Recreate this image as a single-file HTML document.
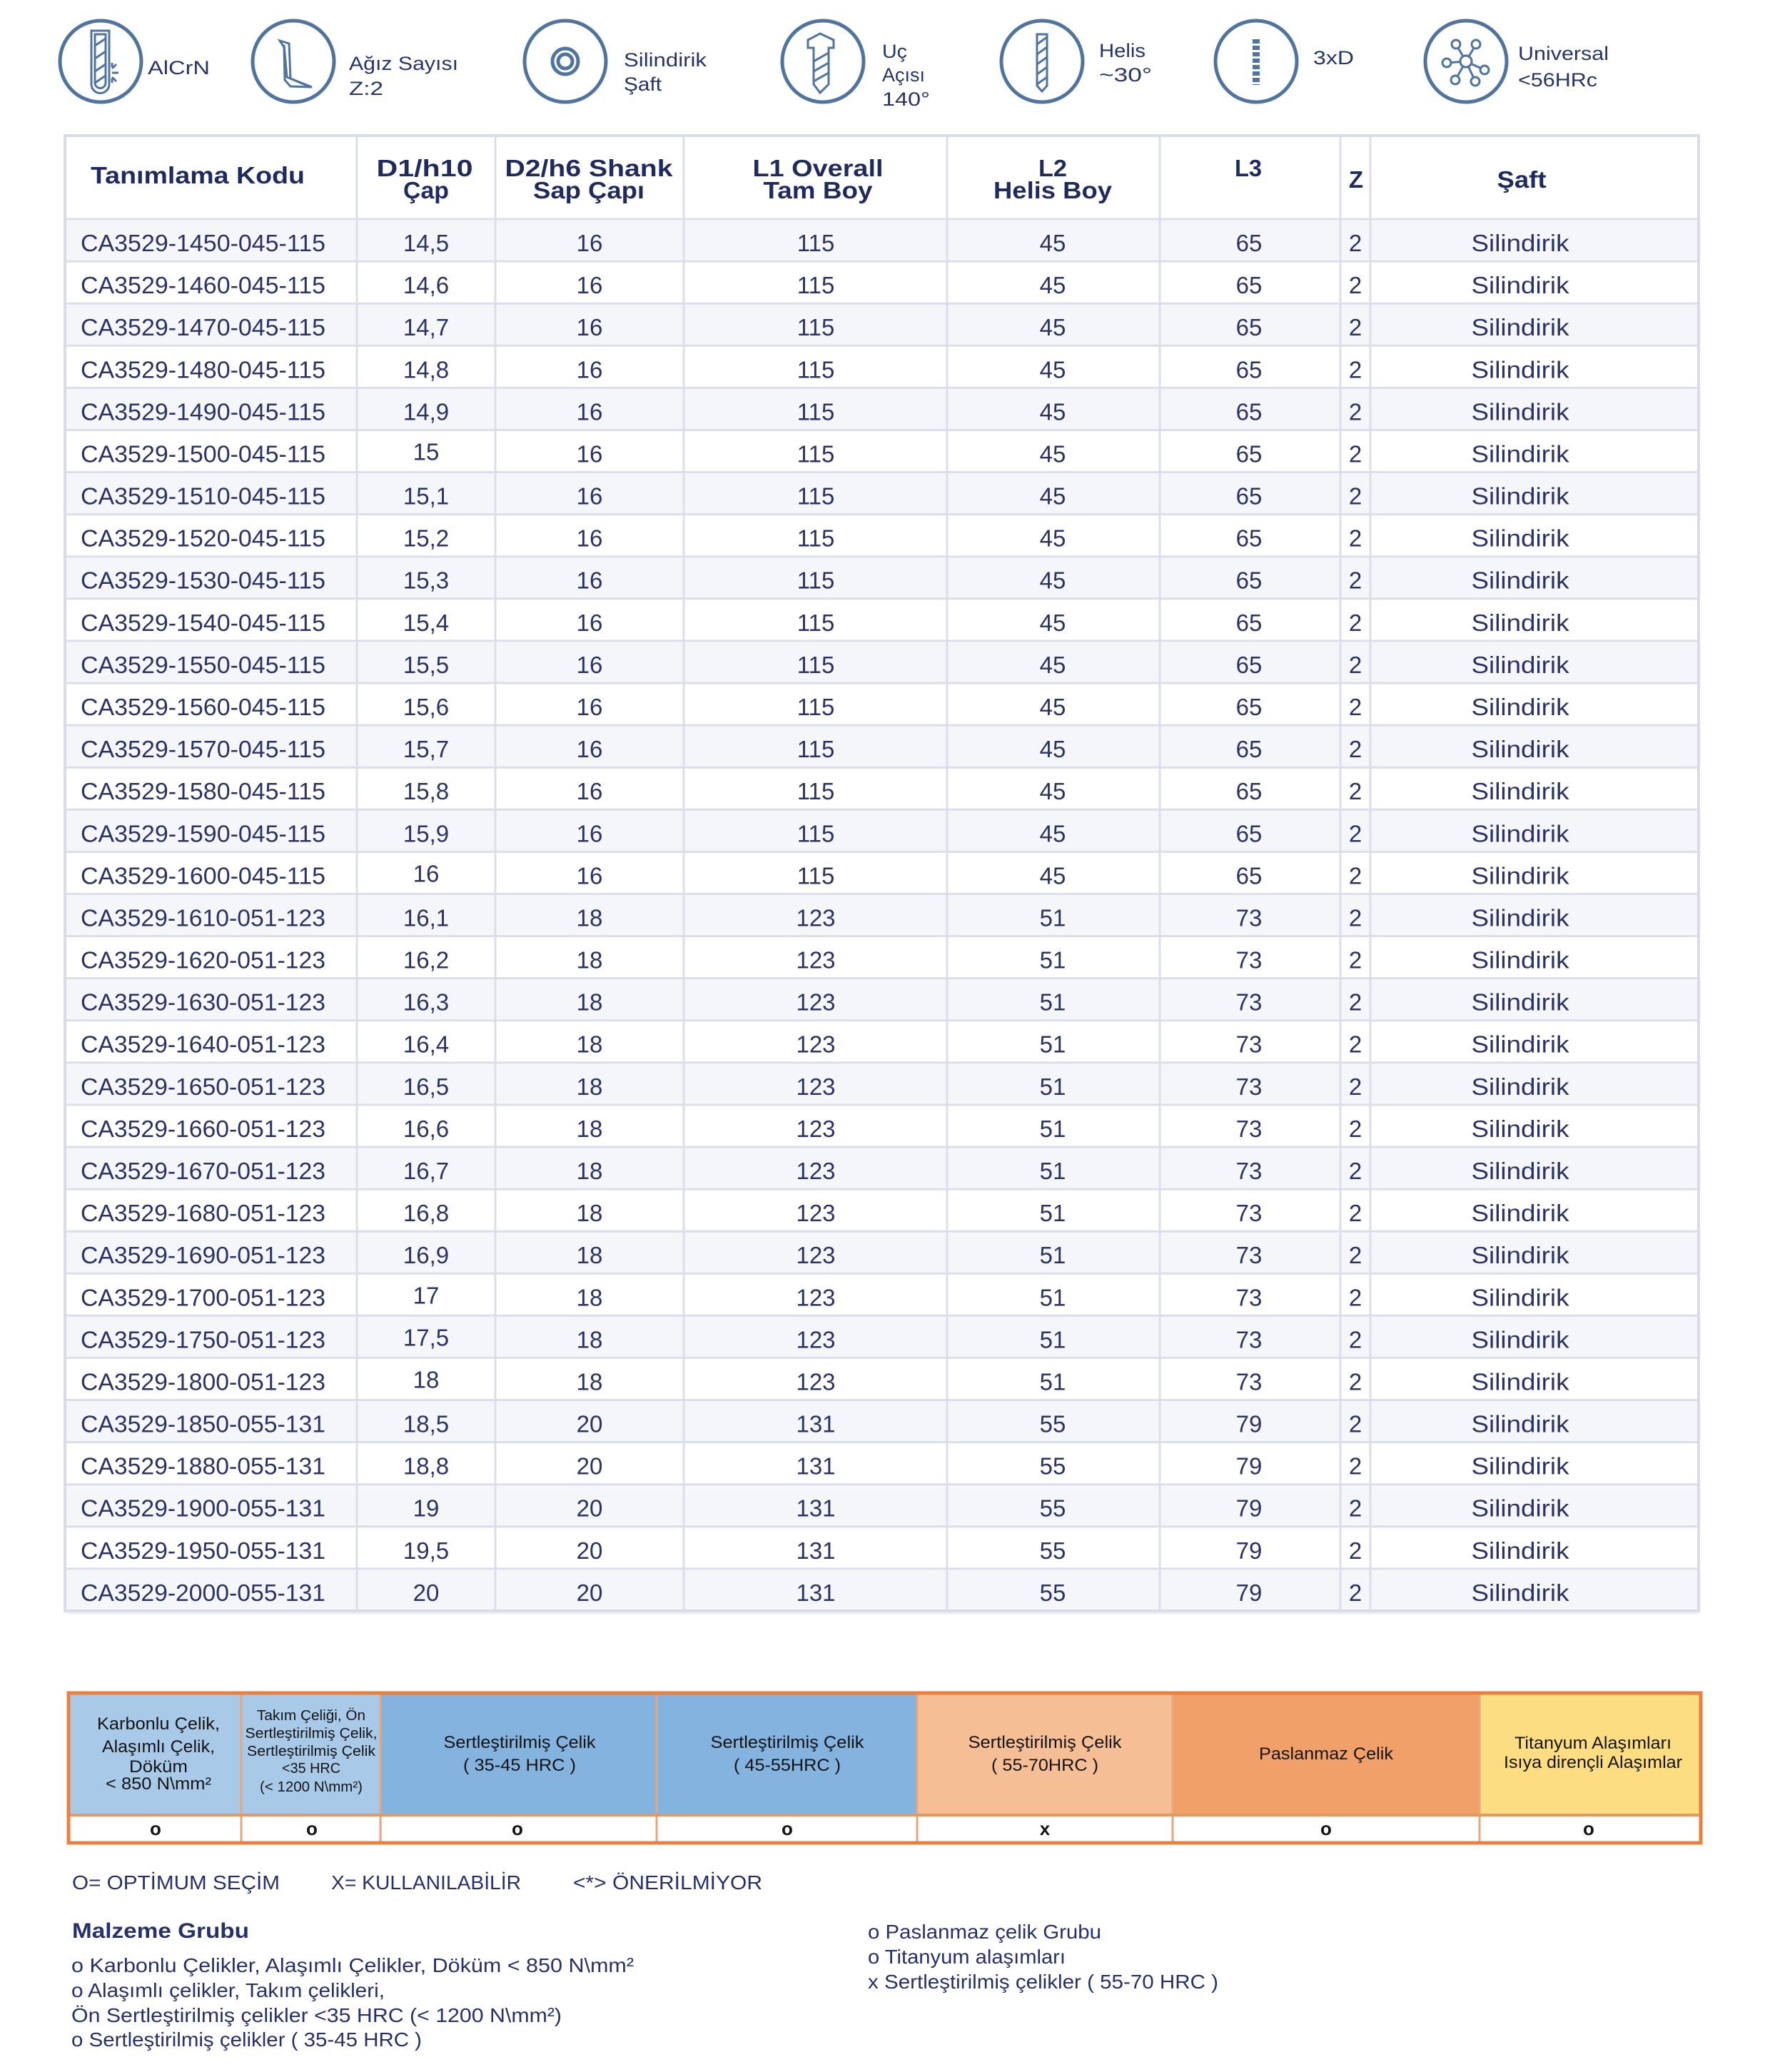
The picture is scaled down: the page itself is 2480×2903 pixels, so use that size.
<!DOCTYPE html>
<html>
<head>
<meta charset="utf-8">
<style>
  html,body{margin:0;padding:0;background:#fff;}
  svg{display:block;}
  text{font-family:"Liberation Sans",sans-serif;}
  .c{font-size:33px;fill:#2b3366;}
  .n{font-size:33px;fill:#2b3366;text-anchor:middle;}
  .h{font-size:33px;font-weight:bold;fill:#1f2a5e;text-anchor:middle;}
  .il{font-size:27px;fill:#27346a;}
  .lg{font-size:24px;fill:#141414;text-anchor:middle;}
  .lg2{font-size:20px;fill:#141414;text-anchor:middle;}
  .mk{font-size:26px;font-weight:bold;fill:#141414;text-anchor:middle;}
  .ft{font-size:28px;fill:#26306a;}
  .fb{font-size:30px;font-weight:bold;fill:#26306a;}
  .a{fill:#f5f6fa;}
  .b{fill:#ffffff;}
  .ic{fill:none;stroke:#4f74a0;stroke-width:5;}
  .ic3{fill:none;stroke:#4f74a0;stroke-width:3;}
</style>
</head>
<body>
<svg width="2480" height="2903" viewBox="0 0 2480 2903" xmlns="http://www.w3.org/2000/svg">
<rect x="0" y="0" width="2480" height="2903" fill="#fff"/>

<!-- ICONS -->
<circle class="ic" cx="141" cy="86" r="57"/>
<path class="ic3" d="M128,43 H153 V118 A12.5,12.5 0 0 1 128,118 Z"/>
<path class="ic3" stroke-width="2" d="M133,48 H148 V116 A7.5,7.5 0 0 1 133,116 Z"/>
<path class="ic3" d="M133,64 L148,54 M133,82 L148,72 M133,100 L148,90 M133,116 L148,106"/>
<path class="ic3" d="M157,102 H166 M157,96 L163,90 M157,108 L163,114 M157,94 V88 M157,110 V116"/>
<text class="il" x="207" y="104" textLength="87" lengthAdjust="spacingAndGlyphs">AlCrN</text>

<circle class="ic" cx="411" cy="86" r="57"/>
<path class="ic3" d="M392,57 L405,61 L407,110 L437,122 L407,121 L399,112 L398,66 Z"/>
<path class="ic3" stroke-width="2" d="M398,63 L402,108 L428,119"/>
<text class="il" x="489" y="98" textLength="153" lengthAdjust="spacingAndGlyphs">Ağız Sayısı</text>
<text class="il" x="489" y="133" textLength="48" lengthAdjust="spacingAndGlyphs">Z:2</text>

<circle class="ic" cx="792" cy="86" r="57"/>
<circle class="ic" cx="792" cy="86" r="18" stroke-width="4.5"/>
<circle class="ic" cx="792" cy="86" r="10" stroke-width="4"/>
<text class="il" x="874" y="93" textLength="116" lengthAdjust="spacingAndGlyphs">Silindirik</text>
<text class="il" x="874" y="127" textLength="53" lengthAdjust="spacingAndGlyphs">Şaft</text>

<circle class="ic" cx="1153" cy="86" r="57"/>
<path class="ic3" d="M1132,56 L1149,47 L1168,56 V67 H1161 V118 L1149,130 L1140,118 V67 H1132 Z"/>
<path class="ic3" d="M1140,86 L1161,74 M1140,100 L1161,88 M1140,114 L1161,102"/>
<text class="il" x="1236" y="81" textLength="35" lengthAdjust="spacingAndGlyphs">Uç</text>
<text class="il" x="1236" y="114" textLength="60" lengthAdjust="spacingAndGlyphs">Açısı</text>
<text class="il" x="1236" y="148" textLength="67" lengthAdjust="spacingAndGlyphs">140°</text>

<circle class="ic" cx="1460" cy="86" r="57"/>
<path class="ic3" d="M1453,48 H1467 V120 L1460,128 L1453,120 Z"/>
<path class="ic3" stroke-width="2" d="M1453,62 L1467,52 M1453,76 L1467,66 M1453,90 L1467,80 M1453,104 L1467,94 M1453,118 L1467,108"/>
<text class="il" x="1540" y="80" textLength="65" lengthAdjust="spacingAndGlyphs">Helis</text>
<text class="il" x="1540" y="114" textLength="74" lengthAdjust="spacingAndGlyphs">~30°</text>

<circle class="ic" cx="1760" cy="86" r="57"/>
<line x1="1760" y1="55" x2="1760" y2="119" stroke="#4f74a0" stroke-width="10" stroke-dasharray="6 3"/>
<text class="il" x="1840" y="90" textLength="57" lengthAdjust="spacingAndGlyphs">3xD</text>

<circle class="ic" cx="2054" cy="86" r="57"/>
<g stroke="#4f74a0" stroke-width="3" fill="none">
  <circle cx="2054" cy="86" r="8"/>
  <line x1="2054" y1="86" x2="2040" y2="62"/><circle cx="2040" cy="62" r="6" fill="#fff"/>
  <line x1="2054" y1="86" x2="2068" y2="62"/><circle cx="2068" cy="62" r="6" fill="#fff"/>
  <line x1="2054" y1="86" x2="2027" y2="88"/><circle cx="2027" cy="88" r="6" fill="#fff"/>
  <line x1="2054" y1="86" x2="2080" y2="98"/><circle cx="2080" cy="98" r="6" fill="#fff"/>
  <line x1="2054" y1="86" x2="2039" y2="112"/><circle cx="2039" cy="112" r="6" fill="#fff"/>
  <line x1="2054" y1="86" x2="2067" y2="114"/><circle cx="2067" cy="114" r="6" fill="#fff"/>
  <circle cx="2054" cy="86" r="8" fill="#fff"/>
</g>
<text class="il" x="2127" y="84" textLength="127" lengthAdjust="spacingAndGlyphs">Universal</text>
<text class="il" x="2127" y="121" textLength="111" lengthAdjust="spacingAndGlyphs">&lt;56HRc</text>

<!-- MAIN TABLE -->
<rect x="91" y="190" width="2289" height="117" fill="#fff"/>
<text class="h" x="277" y="257" textLength="300" lengthAdjust="spacingAndGlyphs">Tanımlama Kodu</text>
<text class="h" x="595" y="247" textLength="135" lengthAdjust="spacingAndGlyphs">D1/h10</text>
<text class="h" x="597" y="278" textLength="64" lengthAdjust="spacingAndGlyphs">Çap</text>
<text class="h" x="825" y="247" textLength="235" lengthAdjust="spacingAndGlyphs">D2/h6 Shank</text>
<text class="h" x="825" y="278" textLength="156" lengthAdjust="spacingAndGlyphs">Sap Çapı</text>
<text class="h" x="1146" y="247" textLength="183" lengthAdjust="spacingAndGlyphs">L1 Overall</text>
<text class="h" x="1146" y="278" textLength="153" lengthAdjust="spacingAndGlyphs">Tam Boy</text>
<text class="h" x="1475" y="247" textLength="40" lengthAdjust="spacingAndGlyphs">L2</text>
<text class="h" x="1475" y="278" textLength="166" lengthAdjust="spacingAndGlyphs">Helis Boy</text>
<text class="h" x="1749" y="247" textLength="38" lengthAdjust="spacingAndGlyphs">L3</text>
<text class="h" x="1900" y="263">Z</text>
<text class="h" x="2132" y="263" textLength="69" lengthAdjust="spacingAndGlyphs">Şaft</text>

<g transform="translate(0,307)"><rect class="a" x="91" y="0" width="2289" height="59.1"/><text class="c" x="113" y="45" textLength="343" lengthAdjust="spacingAndGlyphs">CA3529-1450-045-115</text><text class="n" x="597" y="45">14,5</text><text class="n" x="826" y="45">16</text><text class="n" x="1143" y="45">115</text><text class="n" x="1475" y="45">45</text><text class="n" x="1750" y="45">65</text><text class="n" x="1899" y="45">2</text><text class="n" x="2130" y="45" textLength="137" lengthAdjust="spacingAndGlyphs">Silindirik</text></g>
<g transform="translate(0,366.09)"><rect class="b" x="91" y="0" width="2289" height="59.1"/><text class="c" x="113" y="45" textLength="343" lengthAdjust="spacingAndGlyphs">CA3529-1460-045-115</text><text class="n" x="597" y="45">14,6</text><text class="n" x="826" y="45">16</text><text class="n" x="1143" y="45">115</text><text class="n" x="1475" y="45">45</text><text class="n" x="1750" y="45">65</text><text class="n" x="1899" y="45">2</text><text class="n" x="2130" y="45" textLength="137" lengthAdjust="spacingAndGlyphs">Silindirik</text></g>
<g transform="translate(0,425.18)"><rect class="a" x="91" y="0" width="2289" height="59.1"/><text class="c" x="113" y="45" textLength="343" lengthAdjust="spacingAndGlyphs">CA3529-1470-045-115</text><text class="n" x="597" y="45">14,7</text><text class="n" x="826" y="45">16</text><text class="n" x="1143" y="45">115</text><text class="n" x="1475" y="45">45</text><text class="n" x="1750" y="45">65</text><text class="n" x="1899" y="45">2</text><text class="n" x="2130" y="45" textLength="137" lengthAdjust="spacingAndGlyphs">Silindirik</text></g>
<g transform="translate(0,484.27)"><rect class="b" x="91" y="0" width="2289" height="59.1"/><text class="c" x="113" y="45" textLength="343" lengthAdjust="spacingAndGlyphs">CA3529-1480-045-115</text><text class="n" x="597" y="45">14,8</text><text class="n" x="826" y="45">16</text><text class="n" x="1143" y="45">115</text><text class="n" x="1475" y="45">45</text><text class="n" x="1750" y="45">65</text><text class="n" x="1899" y="45">2</text><text class="n" x="2130" y="45" textLength="137" lengthAdjust="spacingAndGlyphs">Silindirik</text></g>
<g transform="translate(0,543.36)"><rect class="a" x="91" y="0" width="2289" height="59.1"/><text class="c" x="113" y="45" textLength="343" lengthAdjust="spacingAndGlyphs">CA3529-1490-045-115</text><text class="n" x="597" y="45">14,9</text><text class="n" x="826" y="45">16</text><text class="n" x="1143" y="45">115</text><text class="n" x="1475" y="45">45</text><text class="n" x="1750" y="45">65</text><text class="n" x="1899" y="45">2</text><text class="n" x="2130" y="45" textLength="137" lengthAdjust="spacingAndGlyphs">Silindirik</text></g>
<g transform="translate(0,602.45)"><rect class="b" x="91" y="0" width="2289" height="59.1"/><text class="c" x="113" y="45" textLength="343" lengthAdjust="spacingAndGlyphs">CA3529-1500-045-115</text><text class="n" x="597" y="42">15</text><text class="n" x="826" y="45">16</text><text class="n" x="1143" y="45">115</text><text class="n" x="1475" y="45">45</text><text class="n" x="1750" y="45">65</text><text class="n" x="1899" y="45">2</text><text class="n" x="2130" y="45" textLength="137" lengthAdjust="spacingAndGlyphs">Silindirik</text></g>
<g transform="translate(0,661.55)"><rect class="a" x="91" y="0" width="2289" height="59.1"/><text class="c" x="113" y="45" textLength="343" lengthAdjust="spacingAndGlyphs">CA3529-1510-045-115</text><text class="n" x="597" y="45">15,1</text><text class="n" x="826" y="45">16</text><text class="n" x="1143" y="45">115</text><text class="n" x="1475" y="45">45</text><text class="n" x="1750" y="45">65</text><text class="n" x="1899" y="45">2</text><text class="n" x="2130" y="45" textLength="137" lengthAdjust="spacingAndGlyphs">Silindirik</text></g>
<g transform="translate(0,720.64)"><rect class="b" x="91" y="0" width="2289" height="59.1"/><text class="c" x="113" y="45" textLength="343" lengthAdjust="spacingAndGlyphs">CA3529-1520-045-115</text><text class="n" x="597" y="45">15,2</text><text class="n" x="826" y="45">16</text><text class="n" x="1143" y="45">115</text><text class="n" x="1475" y="45">45</text><text class="n" x="1750" y="45">65</text><text class="n" x="1899" y="45">2</text><text class="n" x="2130" y="45" textLength="137" lengthAdjust="spacingAndGlyphs">Silindirik</text></g>
<g transform="translate(0,779.73)"><rect class="a" x="91" y="0" width="2289" height="59.1"/><text class="c" x="113" y="45" textLength="343" lengthAdjust="spacingAndGlyphs">CA3529-1530-045-115</text><text class="n" x="597" y="45">15,3</text><text class="n" x="826" y="45">16</text><text class="n" x="1143" y="45">115</text><text class="n" x="1475" y="45">45</text><text class="n" x="1750" y="45">65</text><text class="n" x="1899" y="45">2</text><text class="n" x="2130" y="45" textLength="137" lengthAdjust="spacingAndGlyphs">Silindirik</text></g>
<g transform="translate(0,838.82)"><rect class="b" x="91" y="0" width="2289" height="59.1"/><text class="c" x="113" y="45" textLength="343" lengthAdjust="spacingAndGlyphs">CA3529-1540-045-115</text><text class="n" x="597" y="45">15,4</text><text class="n" x="826" y="45">16</text><text class="n" x="1143" y="45">115</text><text class="n" x="1475" y="45">45</text><text class="n" x="1750" y="45">65</text><text class="n" x="1899" y="45">2</text><text class="n" x="2130" y="45" textLength="137" lengthAdjust="spacingAndGlyphs">Silindirik</text></g>
<g transform="translate(0,897.91)"><rect class="a" x="91" y="0" width="2289" height="59.1"/><text class="c" x="113" y="45" textLength="343" lengthAdjust="spacingAndGlyphs">CA3529-1550-045-115</text><text class="n" x="597" y="45">15,5</text><text class="n" x="826" y="45">16</text><text class="n" x="1143" y="45">115</text><text class="n" x="1475" y="45">45</text><text class="n" x="1750" y="45">65</text><text class="n" x="1899" y="45">2</text><text class="n" x="2130" y="45" textLength="137" lengthAdjust="spacingAndGlyphs">Silindirik</text></g>
<g transform="translate(0,957)"><rect class="b" x="91" y="0" width="2289" height="59.1"/><text class="c" x="113" y="45" textLength="343" lengthAdjust="spacingAndGlyphs">CA3529-1560-045-115</text><text class="n" x="597" y="45">15,6</text><text class="n" x="826" y="45">16</text><text class="n" x="1143" y="45">115</text><text class="n" x="1475" y="45">45</text><text class="n" x="1750" y="45">65</text><text class="n" x="1899" y="45">2</text><text class="n" x="2130" y="45" textLength="137" lengthAdjust="spacingAndGlyphs">Silindirik</text></g>
<g transform="translate(0,1016.09)"><rect class="a" x="91" y="0" width="2289" height="59.1"/><text class="c" x="113" y="45" textLength="343" lengthAdjust="spacingAndGlyphs">CA3529-1570-045-115</text><text class="n" x="597" y="45">15,7</text><text class="n" x="826" y="45">16</text><text class="n" x="1143" y="45">115</text><text class="n" x="1475" y="45">45</text><text class="n" x="1750" y="45">65</text><text class="n" x="1899" y="45">2</text><text class="n" x="2130" y="45" textLength="137" lengthAdjust="spacingAndGlyphs">Silindirik</text></g>
<g transform="translate(0,1075.18)"><rect class="b" x="91" y="0" width="2289" height="59.1"/><text class="c" x="113" y="45" textLength="343" lengthAdjust="spacingAndGlyphs">CA3529-1580-045-115</text><text class="n" x="597" y="45">15,8</text><text class="n" x="826" y="45">16</text><text class="n" x="1143" y="45">115</text><text class="n" x="1475" y="45">45</text><text class="n" x="1750" y="45">65</text><text class="n" x="1899" y="45">2</text><text class="n" x="2130" y="45" textLength="137" lengthAdjust="spacingAndGlyphs">Silindirik</text></g>
<g transform="translate(0,1134.27)"><rect class="a" x="91" y="0" width="2289" height="59.1"/><text class="c" x="113" y="45" textLength="343" lengthAdjust="spacingAndGlyphs">CA3529-1590-045-115</text><text class="n" x="597" y="45">15,9</text><text class="n" x="826" y="45">16</text><text class="n" x="1143" y="45">115</text><text class="n" x="1475" y="45">45</text><text class="n" x="1750" y="45">65</text><text class="n" x="1899" y="45">2</text><text class="n" x="2130" y="45" textLength="137" lengthAdjust="spacingAndGlyphs">Silindirik</text></g>
<g transform="translate(0,1193.36)"><rect class="b" x="91" y="0" width="2289" height="59.1"/><text class="c" x="113" y="45" textLength="343" lengthAdjust="spacingAndGlyphs">CA3529-1600-045-115</text><text class="n" x="597" y="42">16</text><text class="n" x="826" y="45">16</text><text class="n" x="1143" y="45">115</text><text class="n" x="1475" y="45">45</text><text class="n" x="1750" y="45">65</text><text class="n" x="1899" y="45">2</text><text class="n" x="2130" y="45" textLength="137" lengthAdjust="spacingAndGlyphs">Silindirik</text></g>
<g transform="translate(0,1252.45)"><rect class="a" x="91" y="0" width="2289" height="59.1"/><text class="c" x="113" y="45" textLength="343" lengthAdjust="spacingAndGlyphs">CA3529-1610-051-123</text><text class="n" x="597" y="45">16,1</text><text class="n" x="826" y="45">18</text><text class="n" x="1143" y="45">123</text><text class="n" x="1475" y="45">51</text><text class="n" x="1750" y="45">73</text><text class="n" x="1899" y="45">2</text><text class="n" x="2130" y="45" textLength="137" lengthAdjust="spacingAndGlyphs">Silindirik</text></g>
<g transform="translate(0,1311.55)"><rect class="b" x="91" y="0" width="2289" height="59.1"/><text class="c" x="113" y="45" textLength="343" lengthAdjust="spacingAndGlyphs">CA3529-1620-051-123</text><text class="n" x="597" y="45">16,2</text><text class="n" x="826" y="45">18</text><text class="n" x="1143" y="45">123</text><text class="n" x="1475" y="45">51</text><text class="n" x="1750" y="45">73</text><text class="n" x="1899" y="45">2</text><text class="n" x="2130" y="45" textLength="137" lengthAdjust="spacingAndGlyphs">Silindirik</text></g>
<g transform="translate(0,1370.64)"><rect class="a" x="91" y="0" width="2289" height="59.1"/><text class="c" x="113" y="45" textLength="343" lengthAdjust="spacingAndGlyphs">CA3529-1630-051-123</text><text class="n" x="597" y="45">16,3</text><text class="n" x="826" y="45">18</text><text class="n" x="1143" y="45">123</text><text class="n" x="1475" y="45">51</text><text class="n" x="1750" y="45">73</text><text class="n" x="1899" y="45">2</text><text class="n" x="2130" y="45" textLength="137" lengthAdjust="spacingAndGlyphs">Silindirik</text></g>
<g transform="translate(0,1429.73)"><rect class="b" x="91" y="0" width="2289" height="59.1"/><text class="c" x="113" y="45" textLength="343" lengthAdjust="spacingAndGlyphs">CA3529-1640-051-123</text><text class="n" x="597" y="45">16,4</text><text class="n" x="826" y="45">18</text><text class="n" x="1143" y="45">123</text><text class="n" x="1475" y="45">51</text><text class="n" x="1750" y="45">73</text><text class="n" x="1899" y="45">2</text><text class="n" x="2130" y="45" textLength="137" lengthAdjust="spacingAndGlyphs">Silindirik</text></g>
<g transform="translate(0,1488.82)"><rect class="a" x="91" y="0" width="2289" height="59.1"/><text class="c" x="113" y="45" textLength="343" lengthAdjust="spacingAndGlyphs">CA3529-1650-051-123</text><text class="n" x="597" y="45">16,5</text><text class="n" x="826" y="45">18</text><text class="n" x="1143" y="45">123</text><text class="n" x="1475" y="45">51</text><text class="n" x="1750" y="45">73</text><text class="n" x="1899" y="45">2</text><text class="n" x="2130" y="45" textLength="137" lengthAdjust="spacingAndGlyphs">Silindirik</text></g>
<g transform="translate(0,1547.91)"><rect class="b" x="91" y="0" width="2289" height="59.1"/><text class="c" x="113" y="45" textLength="343" lengthAdjust="spacingAndGlyphs">CA3529-1660-051-123</text><text class="n" x="597" y="45">16,6</text><text class="n" x="826" y="45">18</text><text class="n" x="1143" y="45">123</text><text class="n" x="1475" y="45">51</text><text class="n" x="1750" y="45">73</text><text class="n" x="1899" y="45">2</text><text class="n" x="2130" y="45" textLength="137" lengthAdjust="spacingAndGlyphs">Silindirik</text></g>
<g transform="translate(0,1607)"><rect class="a" x="91" y="0" width="2289" height="59.1"/><text class="c" x="113" y="45" textLength="343" lengthAdjust="spacingAndGlyphs">CA3529-1670-051-123</text><text class="n" x="597" y="45">16,7</text><text class="n" x="826" y="45">18</text><text class="n" x="1143" y="45">123</text><text class="n" x="1475" y="45">51</text><text class="n" x="1750" y="45">73</text><text class="n" x="1899" y="45">2</text><text class="n" x="2130" y="45" textLength="137" lengthAdjust="spacingAndGlyphs">Silindirik</text></g>
<g transform="translate(0,1666.09)"><rect class="b" x="91" y="0" width="2289" height="59.1"/><text class="c" x="113" y="45" textLength="343" lengthAdjust="spacingAndGlyphs">CA3529-1680-051-123</text><text class="n" x="597" y="45">16,8</text><text class="n" x="826" y="45">18</text><text class="n" x="1143" y="45">123</text><text class="n" x="1475" y="45">51</text><text class="n" x="1750" y="45">73</text><text class="n" x="1899" y="45">2</text><text class="n" x="2130" y="45" textLength="137" lengthAdjust="spacingAndGlyphs">Silindirik</text></g>
<g transform="translate(0,1725.18)"><rect class="a" x="91" y="0" width="2289" height="59.1"/><text class="c" x="113" y="45" textLength="343" lengthAdjust="spacingAndGlyphs">CA3529-1690-051-123</text><text class="n" x="597" y="45">16,9</text><text class="n" x="826" y="45">18</text><text class="n" x="1143" y="45">123</text><text class="n" x="1475" y="45">51</text><text class="n" x="1750" y="45">73</text><text class="n" x="1899" y="45">2</text><text class="n" x="2130" y="45" textLength="137" lengthAdjust="spacingAndGlyphs">Silindirik</text></g>
<g transform="translate(0,1784.27)"><rect class="b" x="91" y="0" width="2289" height="59.1"/><text class="c" x="113" y="45" textLength="343" lengthAdjust="spacingAndGlyphs">CA3529-1700-051-123</text><text class="n" x="597" y="42">17</text><text class="n" x="826" y="45">18</text><text class="n" x="1143" y="45">123</text><text class="n" x="1475" y="45">51</text><text class="n" x="1750" y="45">73</text><text class="n" x="1899" y="45">2</text><text class="n" x="2130" y="45" textLength="137" lengthAdjust="spacingAndGlyphs">Silindirik</text></g>
<g transform="translate(0,1843.36)"><rect class="a" x="91" y="0" width="2289" height="59.1"/><text class="c" x="113" y="45" textLength="343" lengthAdjust="spacingAndGlyphs">CA3529-1750-051-123</text><text class="n" x="597" y="42">17,5</text><text class="n" x="826" y="45">18</text><text class="n" x="1143" y="45">123</text><text class="n" x="1475" y="45">51</text><text class="n" x="1750" y="45">73</text><text class="n" x="1899" y="45">2</text><text class="n" x="2130" y="45" textLength="137" lengthAdjust="spacingAndGlyphs">Silindirik</text></g>
<g transform="translate(0,1902.45)"><rect class="b" x="91" y="0" width="2289" height="59.1"/><text class="c" x="113" y="45" textLength="343" lengthAdjust="spacingAndGlyphs">CA3529-1800-051-123</text><text class="n" x="597" y="42">18</text><text class="n" x="826" y="45">18</text><text class="n" x="1143" y="45">123</text><text class="n" x="1475" y="45">51</text><text class="n" x="1750" y="45">73</text><text class="n" x="1899" y="45">2</text><text class="n" x="2130" y="45" textLength="137" lengthAdjust="spacingAndGlyphs">Silindirik</text></g>
<g transform="translate(0,1961.55)"><rect class="a" x="91" y="0" width="2289" height="59.1"/><text class="c" x="113" y="45" textLength="343" lengthAdjust="spacingAndGlyphs">CA3529-1850-055-131</text><text class="n" x="597" y="45">18,5</text><text class="n" x="826" y="45">20</text><text class="n" x="1143" y="45">131</text><text class="n" x="1475" y="45">55</text><text class="n" x="1750" y="45">79</text><text class="n" x="1899" y="45">2</text><text class="n" x="2130" y="45" textLength="137" lengthAdjust="spacingAndGlyphs">Silindirik</text></g>
<g transform="translate(0,2020.64)"><rect class="b" x="91" y="0" width="2289" height="59.1"/><text class="c" x="113" y="45" textLength="343" lengthAdjust="spacingAndGlyphs">CA3529-1880-055-131</text><text class="n" x="597" y="45">18,8</text><text class="n" x="826" y="45">20</text><text class="n" x="1143" y="45">131</text><text class="n" x="1475" y="45">55</text><text class="n" x="1750" y="45">79</text><text class="n" x="1899" y="45">2</text><text class="n" x="2130" y="45" textLength="137" lengthAdjust="spacingAndGlyphs">Silindirik</text></g>
<g transform="translate(0,2079.73)"><rect class="a" x="91" y="0" width="2289" height="59.1"/><text class="c" x="113" y="45" textLength="343" lengthAdjust="spacingAndGlyphs">CA3529-1900-055-131</text><text class="n" x="597" y="45">19</text><text class="n" x="826" y="45">20</text><text class="n" x="1143" y="45">131</text><text class="n" x="1475" y="45">55</text><text class="n" x="1750" y="45">79</text><text class="n" x="1899" y="45">2</text><text class="n" x="2130" y="45" textLength="137" lengthAdjust="spacingAndGlyphs">Silindirik</text></g>
<g transform="translate(0,2138.82)"><rect class="b" x="91" y="0" width="2289" height="59.1"/><text class="c" x="113" y="45" textLength="343" lengthAdjust="spacingAndGlyphs">CA3529-1950-055-131</text><text class="n" x="597" y="45">19,5</text><text class="n" x="826" y="45">20</text><text class="n" x="1143" y="45">131</text><text class="n" x="1475" y="45">55</text><text class="n" x="1750" y="45">79</text><text class="n" x="1899" y="45">2</text><text class="n" x="2130" y="45" textLength="137" lengthAdjust="spacingAndGlyphs">Silindirik</text></g>
<g transform="translate(0,2197.91)"><rect class="a" x="91" y="0" width="2289" height="59.1"/><text class="c" x="113" y="45" textLength="343" lengthAdjust="spacingAndGlyphs">CA3529-2000-055-131</text><text class="n" x="597" y="45">20</text><text class="n" x="826" y="45">20</text><text class="n" x="1143" y="45">131</text><text class="n" x="1475" y="45">55</text><text class="n" x="1750" y="45">79</text><text class="n" x="1899" y="45">2</text><text class="n" x="2130" y="45" textLength="137" lengthAdjust="spacingAndGlyphs">Silindirik</text></g>

<!-- grid -->
<g stroke="#dcdeec" stroke-width="3">
  <line x1="91" y1="307" x2="2380" y2="307"/>
  <line x1="91" y1="366.1" x2="2380" y2="366.1"/>
  <line x1="91" y1="425.2" x2="2380" y2="425.2"/>
  <line x1="91" y1="484.3" x2="2380" y2="484.3"/>
  <line x1="91" y1="543.4" x2="2380" y2="543.4"/>
  <line x1="91" y1="602.5" x2="2380" y2="602.5"/>
  <line x1="91" y1="661.5" x2="2380" y2="661.5"/>
  <line x1="91" y1="720.6" x2="2380" y2="720.6"/>
  <line x1="91" y1="779.7" x2="2380" y2="779.7"/>
  <line x1="91" y1="838.8" x2="2380" y2="838.8"/>
  <line x1="91" y1="897.9" x2="2380" y2="897.9"/>
  <line x1="91" y1="957" x2="2380" y2="957"/>
  <line x1="91" y1="1016.1" x2="2380" y2="1016.1"/>
  <line x1="91" y1="1075.2" x2="2380" y2="1075.2"/>
  <line x1="91" y1="1134.3" x2="2380" y2="1134.3"/>
  <line x1="91" y1="1193.4" x2="2380" y2="1193.4"/>
  <line x1="91" y1="1252.4" x2="2380" y2="1252.4"/>
  <line x1="91" y1="1311.5" x2="2380" y2="1311.5"/>
  <line x1="91" y1="1370.6" x2="2380" y2="1370.6"/>
  <line x1="91" y1="1429.7" x2="2380" y2="1429.7"/>
  <line x1="91" y1="1488.8" x2="2380" y2="1488.8"/>
  <line x1="91" y1="1547.9" x2="2380" y2="1547.9"/>
  <line x1="91" y1="1607" x2="2380" y2="1607"/>
  <line x1="91" y1="1666.1" x2="2380" y2="1666.1"/>
  <line x1="91" y1="1725.2" x2="2380" y2="1725.2"/>
  <line x1="91" y1="1784.3" x2="2380" y2="1784.3"/>
  <line x1="91" y1="1843.3" x2="2380" y2="1843.3"/>
  <line x1="91" y1="1902.4" x2="2380" y2="1902.4"/>
  <line x1="91" y1="1961.5" x2="2380" y2="1961.5"/>
  <line x1="91" y1="2020.6" x2="2380" y2="2020.6"/>
  <line x1="91" y1="2079.7" x2="2380" y2="2079.7"/>
  <line x1="91" y1="2138.8" x2="2380" y2="2138.8"/>
  <line x1="91" y1="2197.9" x2="2380" y2="2197.9"/>
  <line x1="500" y1="190" x2="500" y2="2257"/>
  <line x1="694" y1="190" x2="694" y2="2257"/>
  <line x1="958" y1="190" x2="958" y2="2257"/>
  <line x1="1327" y1="190" x2="1327" y2="2257"/>
  <line x1="1625" y1="190" x2="1625" y2="2257"/>
  <line x1="1878" y1="190" x2="1878" y2="2257"/>
  <line x1="1920" y1="190" x2="1920" y2="2257"/>
</g>
<rect x="91" y="190" width="2289" height="2067" fill="none" stroke="#d9dbe9" stroke-width="4"/>
<line x1="93" y1="2260" x2="2380" y2="2260" stroke="#ececf2" stroke-width="3"/>

<!-- LEGEND TABLE -->
<rect x="96" y="2372" width="242" height="171" fill="#a8c9e8"/>
<rect x="338" y="2372" width="195" height="171" fill="#a8c9e8"/>
<rect x="533" y="2372" width="387" height="171" fill="#83b3de"/>
<rect x="920" y="2372" width="365" height="171" fill="#83b3de"/>
<rect x="1285" y="2372" width="358" height="171" fill="#f5be95"/>
<rect x="1643" y="2372" width="430" height="171" fill="#f2a06a"/>
<rect x="2073" y="2372" width="310" height="171" fill="#fddd82"/>
<rect x="96" y="2543" width="2287" height="39" fill="#fff"/>
<g stroke="#eaa57a" stroke-width="3">
  <line x1="338" y1="2372" x2="338" y2="2582"/>
  <line x1="533" y1="2372" x2="533" y2="2582"/>
  <line x1="920" y1="2372" x2="920" y2="2582"/>
  <line x1="1285" y1="2372" x2="1285" y2="2582"/>
  <line x1="1643" y1="2372" x2="1643" y2="2582"/>
  <line x1="2073" y1="2372" x2="2073" y2="2582"/>
</g>
<line x1="96" y1="2543" x2="2383" y2="2543" stroke="#eb9660" stroke-width="4"/>
<rect x="96" y="2372" width="2287" height="210" fill="none" stroke="#e8813f" stroke-width="5"/>

<text class="lg" x="222" y="2423" textLength="172" lengthAdjust="spacingAndGlyphs">Karbonlu Çelik,</text>
<text class="lg" x="222" y="2455" textLength="158" lengthAdjust="spacingAndGlyphs">Alaşımlı Çelik,</text>
<text class="lg" x="222" y="2483" textLength="82" lengthAdjust="spacingAndGlyphs">Döküm</text>
<text class="lg" x="222" y="2507" textLength="148" lengthAdjust="spacingAndGlyphs">&lt; 850 N\mm²</text>

<text class="lg2" x="436" y="2410" textLength="152" lengthAdjust="spacingAndGlyphs">Takım Çeliği, Ön</text>
<text class="lg2" x="436" y="2435" textLength="185" lengthAdjust="spacingAndGlyphs">Sertleştirilmiş Çelik,</text>
<text class="lg2" x="436" y="2460" textLength="180" lengthAdjust="spacingAndGlyphs">Sertleştirilmiş Çelik</text>
<text class="lg2" x="436" y="2484" textLength="82" lengthAdjust="spacingAndGlyphs">&lt;35 HRC</text>
<text class="lg2" x="436" y="2510" textLength="144" lengthAdjust="spacingAndGlyphs">(&lt; 1200 N\mm²)</text>

<text class="lg" x="728" y="2449" textLength="213" lengthAdjust="spacingAndGlyphs">Sertleştirilmiş Çelik</text>
<text class="lg" x="728" y="2481" textLength="158" lengthAdjust="spacingAndGlyphs">( 35-45 HRC )</text>
<text class="lg" x="1103" y="2449" textLength="215" lengthAdjust="spacingAndGlyphs">Sertleştirilmiş Çelik</text>
<text class="lg" x="1103" y="2481" textLength="150" lengthAdjust="spacingAndGlyphs">( 45-55HRC )</text>
<text class="lg" x="1464" y="2449" textLength="215" lengthAdjust="spacingAndGlyphs">Sertleştirilmiş Çelik</text>
<text class="lg" x="1464" y="2481" textLength="150" lengthAdjust="spacingAndGlyphs">( 55-70HRC )</text>
<text class="lg" x="1858" y="2465" textLength="188" lengthAdjust="spacingAndGlyphs">Paslanmaz Çelik</text>
<text class="lg" x="2232" y="2450" textLength="220" lengthAdjust="spacingAndGlyphs">Titanyum Alaşımları</text>
<text class="lg" x="2232" y="2477" textLength="250" lengthAdjust="spacingAndGlyphs">Isıya dirençli Alaşımlar</text>

<text class="mk" x="218" y="2571">o</text>
<text class="mk" x="437" y="2571">o</text>
<text class="mk" x="725" y="2571">o</text>
<text class="mk" x="1103" y="2571">o</text>
<text class="mk" x="1464" y="2571">x</text>
<text class="mk" x="1858" y="2571">o</text>
<text class="mk" x="2226" y="2571">o</text>

<!-- FOOTER -->
<text class="ft" x="101" y="2647" textLength="291" lengthAdjust="spacingAndGlyphs">O= OPTİMUM SEÇİM</text>
<text class="ft" x="464" y="2647" textLength="266" lengthAdjust="spacingAndGlyphs">X= KULLANILABİLİR</text>
<text class="ft" x="803" y="2647" textLength="265" lengthAdjust="spacingAndGlyphs">&lt;*&gt; ÖNERİLMİYOR</text>

<text class="fb" x="101" y="2715" textLength="248" lengthAdjust="spacingAndGlyphs">Malzeme Grubu</text>
<text class="ft" x="100" y="2763" textLength="788" lengthAdjust="spacingAndGlyphs">o Karbonlu Çelikler, Alaşımlı Çelikler, Döküm &lt; 850 N\mm²</text>
<text class="ft" x="100" y="2798" textLength="439" lengthAdjust="spacingAndGlyphs">o Alaşımlı çelikler, Takım çelikleri,</text>
<text class="ft" x="100" y="2833" textLength="687" lengthAdjust="spacingAndGlyphs">Ön Sertleştirilmiş çelikler &lt;35 HRC (&lt; 1200 N\mm²)</text>
<text class="ft" x="100" y="2867" textLength="491" lengthAdjust="spacingAndGlyphs">o Sertleştirilmiş çelikler ( 35-45 HRC )</text>

<text class="ft" x="1216" y="2716" textLength="327" lengthAdjust="spacingAndGlyphs">o Paslanmaz çelik Grubu</text>
<text class="ft" x="1216" y="2751" textLength="277" lengthAdjust="spacingAndGlyphs">o Titanyum alaşımları</text>
<text class="ft" x="1216" y="2786" textLength="491" lengthAdjust="spacingAndGlyphs">x Sertleştirilmiş çelikler ( 55-70 HRC )</text>
</svg>
</body>
</html>
